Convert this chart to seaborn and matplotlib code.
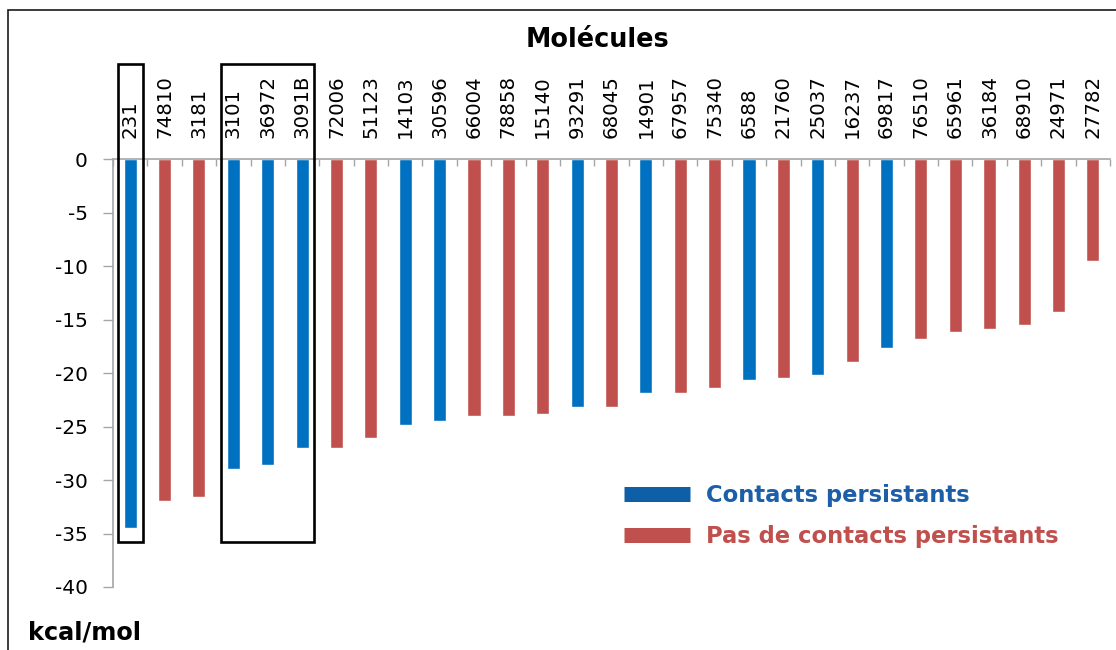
import numpy as np
import pandas as pd
import matplotlib
matplotlib.use("Agg")
import matplotlib.pyplot as plt
from matplotlib.lines import Line2D
from matplotlib.patches import Rectangle
import seaborn as sns

# Binding energies per molecule (kcal/mol), sorted from strongest to weakest
molecules = ["231", "74810", "3181", "3101", "36972", "3091B", "72006", "51123",
             "14103", "30596", "66004", "78858", "15140", "93291", "68045", "14901",
             "67957", "75340", "6588", "21760", "25037", "16237", "69817", "76510",
             "65961", "36184", "68910", "24971", "27782"]
energies = [-34.5, -32.0, -31.6, -29.0, -28.6, -27.0, -27.0, -26.1,
            -24.9, -24.5, -24.0, -24.0, -23.8, -23.2, -23.2, -21.9,
            -21.9, -21.4, -20.7, -20.5, -20.2, -19.0, -17.7, -16.8,
            -16.2, -15.9, -15.5, -14.3, -9.5]
persistent = ["231", "3101", "36972", "3091B", "14103", "30596", "93291",
              "14901", "6588", "25037", "69817"]
group_names = ["Contacts persistants", "Pas de contacts persistants"]
yticks = [0, -5, -10, -15, -20, -25, -30, -35, -40]

# Highlighted groups of molecules (first and last index of each box)
highlight_groups = [(0, 0), (3, 5)]

groups = [group_names[0] if m in persistent else group_names[1] for m in molecules]
df = pd.DataFrame({"molecule": molecules, "energie": energies, "groupe": groups})

bar_colors = {group_names[0]: "#0070C0", group_names[1]: "#C0504D"}
legend_line_colors = ["#0F5FA8", "#C0504D"]
legend_text_colors = ["#1C5EA8", "#C0504D"]
axis_gray = "#A6A6A6"

sns.set_style("white")
plt.rcParams["font.family"] = ["DejaVu Sans"]
plt.rcParams["text.color"] = "black"
plt.rcParams["xtick.labelcolor"] = "black"
plt.rcParams["ytick.labelcolor"] = "black"

fig = plt.figure(figsize=(11.16, 6.5), dpi=100)
ax = fig.add_axes([113 / 1116, 1 - 587 / 650, 997 / 1116, 428 / 650])

sns.barplot(data=df, x="molecule", y="energie", hue="groupe", order=molecules,
            hue_order=group_names, palette=bar_colors, dodge=False, width=0.38,
            saturation=1, legend=False, ax=ax)

n = len(molecules)
ax.set_xlim(-0.5, n - 0.5)
ax.set_ylim(-40, 0)
ax.set_xlabel("")
ax.set_ylabel("")

# Category labels on top, rotated
ax.xaxis.tick_top()
ax.set_xticks(range(n))
ax.set_xticklabels(molecules, rotation=90, fontsize=14.2, color="black")
ax.set_xticks(np.arange(-0.5, n, 1), minor=True)
ax.tick_params(axis="x", which="major", length=0, pad=15, top=True, bottom=False)
ax.tick_params(axis="x", which="minor", direction="in", length=5, width=1,
               color=axis_gray, top=True, bottom=False)

ax.set_yticks(yticks)
ax.set_yticklabels([str(v) for v in yticks], fontsize=14.5, color="black")
ax.tick_params(axis="y", which="major", direction="out", length=7, width=1,
               color=axis_gray, pad=11, left=True)

for side in ["bottom", "right"]:
    ax.spines[side].set_visible(False)
for side in ["left", "top"]:
    ax.spines[side].set_visible(True)
    ax.spines[side].set_color(axis_gray)
    ax.spines[side].set_linewidth(1.2)

# Boxes around highlighted molecules
half = 0.36
for first, last in highlight_groups:
    rect = Rectangle((first - half, -35.8), (last - first) + 2 * half, 35.8 + 8.9,
                     fill=False, edgecolor="black", linewidth=1.9, clip_on=False,
                     zorder=5)
    ax.add_patch(rect)

# Legend
handles = [Line2D([0], [0], color=c, lw=10.8, solid_capstyle="butt")
           for c in legend_line_colors]
leg = ax.legend(handles, group_names, loc="center left",
                bbox_to_anchor=(624 / 1116, 1 - 516 / 650),
                bbox_transform=fig.transFigure, frameon=False,
                prop={"weight": "bold", "size": 16.3},
                handlelength=2.92, handletextpad=0.7, labelspacing=0.78,
                borderpad=0, borderaxespad=0, labelcolor=legend_text_colors)

# Title and unit label
fig.text(598 / 1116, 1 - 47 / 650, "Molécules", ha="center", va="baseline",
         fontsize=18.4, fontweight="bold", color="black")
fig.text(28 / 1116, 1 - 640 / 650, "kcal/mol", ha="left", va="baseline",
         fontsize=17.3, fontweight="bold", color="black")

# Outer frame
fig.patches.append(Rectangle((8 / 1116, -0.05), 1.2, 1.05 - 10 / 650,
                             transform=fig.transFigure, fill=False,
                             edgecolor="#1A1A1A", linewidth=1.2, zorder=10))

fig.savefig("out.png", dpi=100)
